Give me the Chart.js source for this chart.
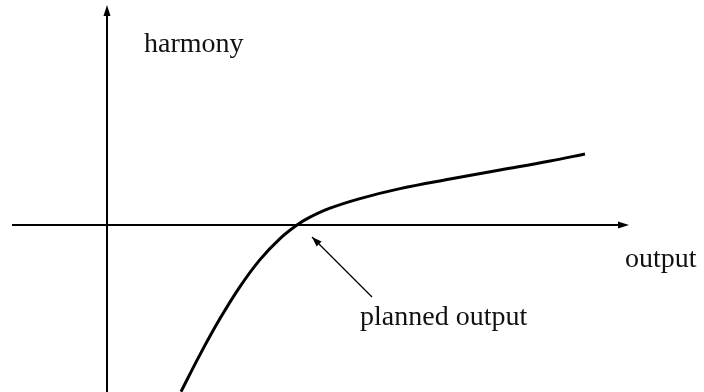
<!DOCTYPE html>
<html>
<head>
<meta charset="utf-8">
<script src="https://cdn.jsdelivr.net/npm/chart.js@4/dist/chart.umd.min.js"></script>
<style>
  html, body { margin: 0; padding: 0; background: #fff; }
  #wrap { width: 704px; height: 392px; }
</style>
</head>
<body>
<div id="wrap"><canvas id="chart" width="704" height="392"></canvas></div>
<script>
// harmony curve (output on x, harmony on y)
const curveX = [0.74, 0.93, 1.13, 1.33, 1.53, 1.73, 1.90, 2.03, 2.23, 2.53, 2.93, 3.43, 3.93, 4.43, 4.78];
const curveY = [-1.667, -1.296, -0.936, -0.616, -0.346, -0.136, 0.00, 0.078, 0.168, 0.264, 0.364, 0.46, 0.55, 0.64, 0.71];

// axes
const xAxisX = [-0.95, 5.18];
const xAxisY = [0, 0];
const yAxisX = [0, 0];
const yAxisY = [-1.67, 2.15];

// pointer to the planned output
const pointerX = [2.65, 2.05];
const pointerY = [-0.72, -0.12];

const labels = ['harmony', 'output', 'planned output'];

const toPoints = (xs, ys) => xs.map((x, i) => ({ x: x, y: ys[i] }));

function arrowHead(ctx, x1, y1, x2, y2, len, half) {
    const a = Math.atan2(y2 - y1, x2 - x1);
    ctx.beginPath();
    ctx.moveTo(x2, y2);
    ctx.lineTo(x2 - len * Math.cos(a) + half * Math.sin(a), y2 - len * Math.sin(a) - half * Math.cos(a));
    ctx.lineTo(x2 - len * Math.cos(a) - half * Math.sin(a), y2 - len * Math.sin(a) + half * Math.cos(a));
    ctx.closePath();
    ctx.fill();
}

const decorations = {
    id: 'decorations',
    afterDatasetsDraw(chart) {
        const ctx = chart.ctx;
        const sx = chart.scales.x, sy = chart.scales.y;
        const px = v => sx.getPixelForValue(v);
        const py = v => sy.getPixelForValue(v);
        ctx.save();
        ctx.fillStyle = '#000';
        // arrow heads on the axes and the pointer
        arrowHead(ctx, px(xAxisX[0]), py(0), px(xAxisX[1]) + 4, py(0), 11, 3.5);
        arrowHead(ctx, px(0), py(yAxisY[0]), px(0), py(yAxisY[1]) - 5, 11, 3.5);
        arrowHead(ctx, px(pointerX[0]), py(pointerY[0]), px(pointerX[1]), py(pointerY[1]), 10, 3.5);
        // labels
        ctx.font = '28px "Liberation Serif", "DejaVu Serif", serif';
        ctx.textBaseline = 'alphabetic';
        ctx.textAlign = 'left';
        ctx.fillStyle = '#111';
        ctx.fillText(labels[0], px(0.37), py(1.73));
        ctx.fillText(labels[1], px(5.18), py(-0.42));
        ctx.fillText(labels[2], px(2.53), py(-1.00));
        ctx.restore();
    }
};

new Chart(document.getElementById('chart'), {
    type: 'scatter',
    data: {
        datasets: [
            {
                data: toPoints(curveX, curveY),
                showLine: true,
                borderColor: '#000',
                borderWidth: 3,
                pointRadius: 0,
                tension: 0.4,
                clip: false
            },
            {
                data: toPoints(xAxisX, xAxisY),
                showLine: true,
                borderColor: '#000',
                borderWidth: 2,
                pointRadius: 0
            },
            {
                data: toPoints(yAxisX, yAxisY),
                showLine: true,
                borderColor: '#000',
                borderWidth: 2,
                pointRadius: 0,
                clip: false
            },
            {
                data: toPoints(pointerX, pointerY),
                showLine: true,
                borderColor: '#000',
                borderWidth: 1.2,
                pointRadius: 0
            }
        ]
    },
    options: {
        responsive: false,
        maintainAspectRatio: false,
        animation: false,
        layout: { padding: 0 },
        plugins: {
            legend: { display: false },
            tooltip: { enabled: false }
        },
        scales: {
            x: { type: 'linear', min: -1.07, max: 5.97, display: false },
            y: { type: 'linear', min: -1.67, max: 2.25, display: false }
        }
    },
    plugins: [decorations]
});
</script>
</body>
</html>
